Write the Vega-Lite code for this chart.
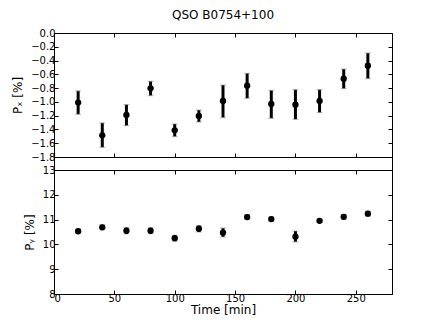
{
  "$schema": "https://vega.github.io/schema/vega-lite/v6.json",
  "autosize": {"type": "none"},
  "padding": {"left": 54, "top": 33, "right": 382, "bottom": 294},
  "spacing": 0,
  "bounds": "flush",
  "config": {
    "font": "DejaVu Sans",
    "view": {"stroke": "black", "strokeWidth": 1},
    "axis": {
      "grid": false,
      "domainColor": "black",
      "tickColor": "black",
      "labelColor": "black",
      "titleColor": "black",
      "labelFontSize": 10,
      "titleFontSize": 11,
      "titleFontWeight": "normal",
      "tickSize": -4,
      "labelPadding": 3
    },
    "title": {"fontSize": 12, "fontWeight": "normal", "color": "black"}
  },
  "datasets": {
    "obs": [
      {"t": 20, "px": -1.01, "px_lo": -1.18, "px_hi": -0.84, "py": 10.53, "py_lo": 10.45, "py_hi": 10.61},
      {"t": 40, "px": -1.485, "px_lo": -1.66, "px_hi": -1.305, "py": 10.69, "py_lo": 10.59, "py_hi": 10.79},
      {"t": 60, "px": -1.19, "px_lo": -1.345, "px_hi": -1.04, "py": 10.55, "py_lo": 10.42, "py_hi": 10.68},
      {"t": 80, "px": -0.803, "px_lo": -0.91, "px_hi": -0.70, "py": 10.55, "py_lo": 10.43, "py_hi": 10.67},
      {"t": 100, "px": -1.413, "px_lo": -1.505, "px_hi": -1.32, "py": 10.25, "py_lo": 10.13, "py_hi": 10.37},
      {"t": 120, "px": -1.205, "px_lo": -1.292, "px_hi": -1.118, "py": 10.63, "py_lo": 10.5, "py_hi": 10.76},
      {"t": 140, "px": -0.987, "px_lo": -1.229, "px_hi": -0.755, "py": 10.47, "py_lo": 10.3, "py_hi": 10.66},
      {"t": 160, "px": -0.764, "px_lo": -0.948, "px_hi": -0.585, "py": 11.1, "py_lo": 11.0, "py_hi": 11.2},
      {"t": 180, "px": -1.03, "px_lo": -1.238, "px_hi": -0.832, "py": 11.02, "py_lo": 10.93, "py_hi": 11.11},
      {"t": 200, "px": -1.04, "px_lo": -1.253, "px_hi": -0.822, "py": 10.31, "py_lo": 10.1, "py_hi": 10.54},
      {"t": 220, "px": -0.987, "px_lo": -1.156, "px_hi": -0.822, "py": 10.95, "py_lo": 10.9, "py_hi": 11.0},
      {"t": 240, "px": -0.663, "px_lo": -0.808, "px_hi": -0.523, "py": 11.11, "py_lo": 11.01, "py_hi": 11.21},
      {"t": 260, "px": -0.474, "px_lo": -0.663, "px_hi": -0.29, "py": 11.24, "py_lo": 11.14, "py_hi": 11.34}
    ]
  },
  "vconcat": [
    {
      "width": 338,
      "height": 124,
      "title": {"text": "QSO B0754+100", "offset": 6},
      "data": {"name": "obs"},
      "resolve": {"axis": {"x": "independent", "y": "independent"}},
      "layer": [
        {
          "mark": {"type": "rule", "color": "black", "strokeWidth": 3},
          "encoding": {
            "x": {"field": "t", "type": "quantitative", "scale": {"domain": [0, 280], "nice": false},
                  "axis": {"orient": "bottom", "values": [0, 50, 100, 150, 200, 250], "labels": false, "title": null}},
            "y": {"field": "px_lo", "type": "quantitative", "scale": {"domain": [-1.8, 0], "nice": false},
                  "axis": {"orient": "left", "values": [-1.8, -1.6, -1.4, -1.2, -1.0, -0.8, -0.6, -0.4, -0.2, 0.0], "format": ".1f", "title": "Pₓ  [%]", "titlePadding": 6, "titleFontSize": 12}},
            "y2": {"field": "px_hi"}
          }
        },
        {
          "mark": {"type": "tick", "orient": "horizontal", "color": "#999", "size": 6, "thickness": 1},
          "encoding": {
            "x": {"field": "t", "type": "quantitative", "axis": null},
            "y": {"field": "px_lo", "type": "quantitative", "axis": null}
          }
        },
        {
          "mark": {"type": "tick", "orient": "horizontal", "color": "#999", "size": 6, "thickness": 1},
          "encoding": {
            "x": {"field": "t", "type": "quantitative", "axis": null},
            "y": {"field": "px_hi", "type": "quantitative", "axis": null}
          }
        },
        {
          "mark": {"type": "circle", "color": "black", "opacity": 1, "size": 40},
          "encoding": {
            "x": {"field": "t", "type": "quantitative",
                  "axis": {"orient": "top", "values": [0, 50, 100, 150, 200, 250], "labels": false, "title": null, "domain": false}},
            "y": {"field": "px", "type": "quantitative",
                  "axis": {"orient": "right", "values": [-1.8, -1.6, -1.4, -1.2, -1.0, -0.8, -0.6, -0.4, -0.2, 0.0], "labels": false, "title": null, "domain": false}}
          }
        }
      ]
    },
    {
      "width": 338,
      "height": 13,
      "data": {"values": []},
      "mark": {"type": "point", "opacity": 0},
      "encoding": {
        "x": {"field": "t", "type": "quantitative", "scale": {"domain": [0, 280]}, "axis": null},
        "y": {"field": "v", "type": "quantitative", "scale": {"domain": [0, 1]}, "axis": null}
      }
    },
    {
      "width": 338,
      "height": 124,
      "data": {"name": "obs"},
      "resolve": {"axis": {"x": "independent", "y": "independent"}},
      "layer": [
        {
          "mark": {"type": "rule", "color": "black", "strokeWidth": 3},
          "encoding": {
            "x": {"field": "t", "type": "quantitative", "scale": {"domain": [0, 280], "nice": false},
                  "axis": {"orient": "bottom", "values": [0, 50, 100, 150, 200, 250], "title": "Time [min]", "titlePadding": 1, "titleFontSize": 12}},
            "y": {"field": "py_lo", "type": "quantitative", "scale": {"domain": [8, 13], "nice": false},
                  "axis": {"orient": "left", "values": [8, 9, 10, 11, 12, 13], "title": "Pᵧ [%]", "titlePadding": 6, "titleFontSize": 12}},
            "y2": {"field": "py_hi"}
          }
        },
        {
          "mark": {"type": "tick", "orient": "horizontal", "color": "#999", "size": 6, "thickness": 1},
          "encoding": {
            "x": {"field": "t", "type": "quantitative", "axis": null},
            "y": {"field": "py_lo", "type": "quantitative", "axis": null}
          }
        },
        {
          "mark": {"type": "tick", "orient": "horizontal", "color": "#999", "size": 6, "thickness": 1},
          "encoding": {
            "x": {"field": "t", "type": "quantitative", "axis": null},
            "y": {"field": "py_hi", "type": "quantitative", "axis": null}
          }
        },
        {
          "mark": {"type": "circle", "color": "black", "opacity": 1, "size": 40},
          "encoding": {
            "x": {"field": "t", "type": "quantitative",
                  "axis": {"orient": "top", "values": [0, 50, 100, 150, 200, 250], "labels": false, "title": null, "domain": false}},
            "y": {"field": "py", "type": "quantitative",
                  "axis": {"orient": "right", "values": [8, 9, 10, 11, 12, 13], "labels": false, "title": null, "domain": false}}
          }
        }
      ]
    }
  ]
}
